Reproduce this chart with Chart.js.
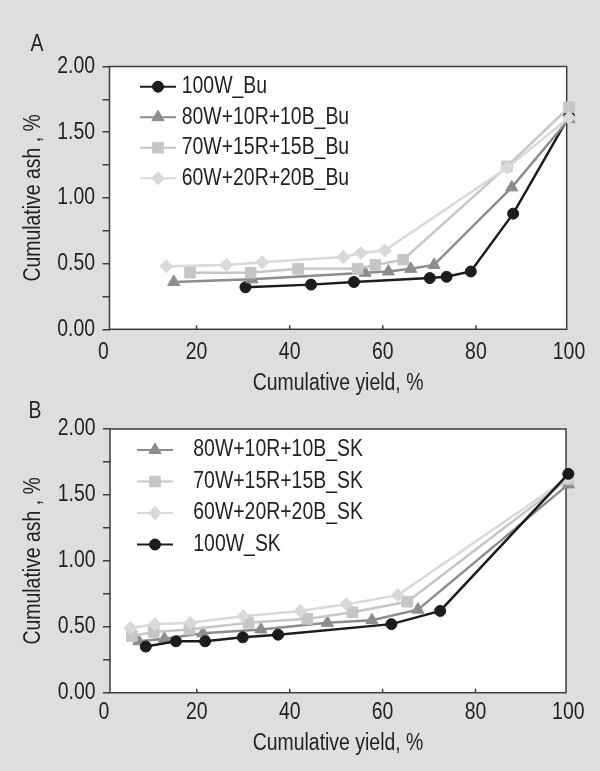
<!DOCTYPE html>
<html>
<head>
<meta charset="utf-8">
<script src="https://cdn.jsdelivr.net/npm/chart.js@4.4.1/dist/chart.umd.min.js"></script>
<style>
  html, body { margin: 0; padding: 0; background: #dddee0; }
  canvas { display: block; }
</style>
</head>
<body>
<canvas id="chartA" width="600" height="400"></canvas>
<canvas id="chartB" width="600" height="371"></canvas>
<script>
// ---- data ----
var xTicks = [0, 20, 40, 60, 80, 100];

// panel A (Bu)
var labelsA = ['100W_Bu', '80W+10R+10B_Bu', '70W+15R+15B_Bu', '60W+20R+20B_Bu'];
var yield100W_Bu = [30.5, 44.6, 53.8, 70.1, 73.7, 78.9, 88.0, 100];
var ash100W_Bu   = [0.32, 0.34, 0.36, 0.39, 0.40, 0.44, 0.88, 1.62];
var yield80W_Bu  = [15.1, 31.9, 56.2, 61.2, 66.0, 71.0, 87.7, 100];
var ash80W_Bu    = [0.36, 0.38, 0.43, 0.44, 0.46, 0.49, 1.08, 1.60];
var yield70W_Bu  = [18.6, 31.6, 41.8, 54.6, 58.4, 64.4, 86.7, 100];
var ash70W_Bu    = [0.43, 0.43, 0.46, 0.46, 0.49, 0.53, 1.24, 1.69];
var yield60W_Bu  = [13.5, 26.4, 34.1, 51.5, 55.3, 60.4, 86.7, 100];
var ash60W_Bu    = [0.48, 0.49, 0.51, 0.55, 0.58, 0.60, 1.23, 1.61];

// panel B (SK)
var labelsB = ['80W+10R+10B_SK', '70W+15R+15B_SK', '60W+20R+20B_SK', '100W_SK'];
var yield80W_SK  = [7.5, 13.0, 21.3, 33.8, 48.1, 57.7, 67.6, 100];
var ash80W_SK    = [0.39, 0.41, 0.45, 0.48, 0.53, 0.55, 0.63, 1.58];
var yield70W_SK  = [6.0, 10.7, 18.4, 31.1, 43.8, 53.5, 65.3, 100];
var ash70W_SK    = [0.43, 0.46, 0.48, 0.53, 0.56, 0.61, 0.69, 1.62];
var yield60W_SK  = [5.7, 11.0, 18.6, 30.0, 42.3, 52.2, 63.3, 100];
var ash60W_SK    = [0.49, 0.52, 0.53, 0.58, 0.62, 0.67, 0.74, 1.63];
var yield100W_SK = [9.0, 15.5, 21.8, 29.9, 37.5, 61.9, 72.4, 100];
var ash100W_SK   = [0.35, 0.39, 0.39, 0.42, 0.44, 0.52, 0.62, 1.66];

// ---- styles ----
var TEXT = '#231f20';
var AXIS = '#3c3c3c';
var FONT = "'Liberation Sans', Arial, sans-serif";
var NARROW = 0.845; // the figure uses a narrow sans, squeeze text sideways
Chart.defaults.font.family = FONT;
Chart.defaults.font.size = 23;
Chart.defaults.color = TEXT;

var styles = {
  circle:   { pointStyle: 'circle',   color: '#1c1c1c', radius: 5.5 },
  triangle: { pointStyle: 'triangle', color: '#8d8d8d', radius: 7 },
  rect:     { pointStyle: 'rect',     color: '#c6c6c6', radius: 7.5 },
  rectRot:  { pointStyle: 'rectRot',  color: '#d9d9d9', radius: 6.5 }
};

function toPoints(xs, ys) {
  return xs.map(function(x, i) { return { x: x, y: ys[i] }; });
}

function makeSet(label, xs, ys, st, order) {
  return {
    label: label,
    data: toPoints(xs, ys),
    order: order,
    borderColor: st.color,
    backgroundColor: st.color,
    borderWidth: 2.5,
    pointStyle: st.pointStyle,
    pointRadius: st.radius,
    pointBackgroundColor: st.color,
    pointBorderColor: st.color,
    pointBorderWidth: 1,
    tension: 0,
    clip: false
  };
}

// condensed text: scale every fillText along its own baseline
function narrowContext(canvas) {
  var ctx = canvas.getContext('2d');
  var orig = ctx.fillText;
  ctx.fillText = function(text, x, y, maxWidth) {
    this.save();
    this.translate(x, y);
    this.scale(NARROW, 1);
    if (maxWidth === undefined) orig.call(this, text, 0, 0);
    else orig.call(this, text, 0, 0, maxWidth / NARROW);
    this.restore();
  };
  return ctx;
}

// frame, inward x ticks, panel letter and the legend
var panelDecor = {
  id: 'panelDecor',
  beforeDraw: function(chart) {
    var a = chart.chartArea, ctx = chart.ctx;
    ctx.save();
    ctx.fillStyle = '#ffffff';
    ctx.fillRect(a.left, a.top, a.right - a.left, a.bottom - a.top);
    ctx.restore();
  },
  beforeDatasetsDraw: function(chart) {
    var a = chart.chartArea, ctx = chart.ctx, xs = chart.scales.x;
    ctx.save();
    ctx.strokeStyle = AXIS;
    ctx.lineWidth = 1.5;
    ctx.strokeRect(a.left, a.top, a.right - a.left, a.bottom - a.top);
    xs.ticks.forEach(function(t) {
      var px = xs.getPixelForValue(t.value);
      if (px > a.left + 2 && px < a.right - 2) {
        ctx.beginPath();
        ctx.moveTo(px, a.bottom);
        ctx.lineTo(px, a.bottom - 4);
        ctx.stroke();
      }
    });
    ctx.restore();
  },
  afterDraw: function(chart, args, opts) {
    var a = chart.chartArea, ctx = chart.ctx;
    ctx.save();
    ctx.fillStyle = TEXT;
    ctx.font = '23px ' + FONT;
    ctx.textAlign = 'center';
    ctx.textBaseline = 'middle';
    ctx.fillText(opts.letter, opts.letterX, opts.letterY);

    ctx.textAlign = 'left';
    chart.data.datasets.forEach(function(ds, i) {
      var y = a.top + opts.top + i * opts.gap;
      var x0 = a.left + opts.lineX0, x1 = a.left + opts.lineX1;
      ctx.strokeStyle = ds.borderColor;
      ctx.lineWidth = 2;
      ctx.beginPath();
      ctx.moveTo(x0, y);
      ctx.lineTo(x1, y);
      ctx.stroke();
      ctx.fillStyle = ds.pointBackgroundColor;
      ctx.strokeStyle = ds.pointBorderColor;
      ctx.lineWidth = 1;
      Chart.helpers.drawPoint(ctx, { pointStyle: ds.pointStyle, radius: ds.pointRadius, rotation: 0, borderWidth: 1 }, (x0 + x1) / 2, y);
      ctx.fillStyle = TEXT;
      ctx.fillText(ds.label, a.left + opts.textX, y);
    });
    ctx.restore();
  }
};

function makeOptions(cfg) {
  return {
    responsive: false,
    animation: false,
    layout: { padding: cfg.padding },
    plugins: {
      legend: { display: false },
      tooltip: { enabled: false },
      panelDecor: cfg.legend
    },
    scales: {
      x: {
        type: 'linear',
        min: 1.3,
        max: 99.5,
        afterBuildTicks: function(s) { s.ticks = xTicks.map(function(v) { return { value: v }; }); },
        afterFit: function(s) { s.height = cfg.xHeight; },
        border: { display: false },
        grid: { drawOnChartArea: false, drawTicks: false },
        ticks: { autoSkip: false, maxRotation: 0, padding: cfg.xTickPad, color: TEXT },
        title: { display: true, text: 'Cumulative yield, %', color: TEXT, padding: { top: cfg.xTitlePad, bottom: cfg.xTitlePad } }
      },
      y: {
        min: 0,
        max: 2,
        afterFit: function(s) { s.width = 100; },
        border: { display: false },
        grid: { drawOnChartArea: false, drawTicks: true, tickLength: 7, color: AXIS, lineWidth: 1.5 },
        ticks: {
          stepSize: 0.25,
          padding: 7.5,
          color: TEXT,
          callback: function(v) { return Math.round(v * 4) % 2 === 0 ? v.toFixed(2) : ''; }
        },
        title: { display: true, text: 'Cumulative ash , %', color: TEXT, padding: { top: 10, bottom: 10 } }
      }
    }
  };
}

new Chart(narrowContext(document.getElementById('chartA')), {
  type: 'line',
  data: {
    datasets: [
      makeSet(labelsA[0], yield100W_Bu, ash100W_Bu, styles.circle, 4),
      makeSet(labelsA[1], yield80W_Bu, ash80W_Bu, styles.triangle, 3),
      makeSet(labelsA[2], yield70W_Bu, ash70W_Bu, styles.rect, 2),
      makeSet(labelsA[3], yield60W_Bu, ash60W_Bu, styles.rectRot, 1)
    ]
  },
  options: makeOptions({
    padding: { left: 9.5, right: 33.3, top: 66.5, bottom: 0 },
    xHeight: 70.7, xTickPad: 9.7, xTitlePad: 2.7,
    legend: { letter: 'A', letterX: 37, letterY: 45, top: 20.2, gap: 30.5, lineX0: 30.5, lineX1: 66.5, textX: 72.2 }
  }),
  plugins: [panelDecor]
});

new Chart(narrowContext(document.getElementById('chartB')), {
  type: 'line',
  data: {
    datasets: [
      makeSet(labelsB[0], yield80W_SK, ash80W_SK, styles.triangle, 4),
      makeSet(labelsB[1], yield70W_SK, ash70W_SK, styles.rect, 3),
      makeSet(labelsB[2], yield60W_SK, ash60W_SK, styles.rectRot, 2),
      makeSet(labelsB[3], yield100W_SK, ash100W_SK, styles.circle, 1)
    ]
  },
  options: makeOptions({
    padding: { left: 10, right: 34, top: 29, bottom: 0 },
    xHeight: 78.3, xTickPad: 6.3, xTitlePad: 13.9,
    legend: { letter: 'B', letterX: 35, letterY: 12, top: 21, gap: 31.5, lineX0: 27, lineX1: 63, textX: 83.3 }
  }),
  plugins: [panelDecor]
});
</script>
</body>
</html>
